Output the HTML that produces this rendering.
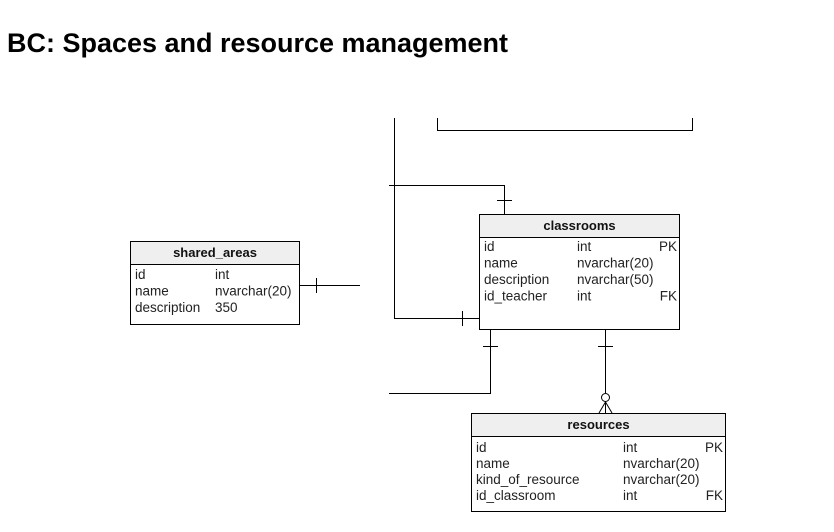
<!DOCTYPE html>
<html><head><style>
html,body{margin:0;padding:0;background:#fff;}
svg{display:block;}
text{font-family:"Liberation Sans",Arial,sans-serif;}
.t{font-size:13.5px;fill:#222;}
.h{font-size:13px;font-weight:bold;fill:#111;}
</style></head><body>
<svg width="834" height="532" viewBox="0 0 834 532" xmlns="http://www.w3.org/2000/svg">
<text x="7" y="52" font-size="27" font-weight="bold" fill="#000" textLength="501" lengthAdjust="spacingAndGlyphs">BC: Spaces and resource management</text>
<g stroke="#000" stroke-width="1" fill="none">
<path d="M437.5 118V130.5H692.5V118"/>
<path d="M394.5 118V318.5H479"/>
<path d="M462.5 311V326"/>
<path d="M389 185.5H504.5V214"/>
<path d="M497 200.5H512"/>
<path d="M299 285.5H360"/>
<path d="M316.5 278V293"/>
<path d="M490.5 329V393.5H389"/>
<path d="M483 346.5H498"/>
<path d="M605.5 329V393"/>
<path d="M598 346.5H613"/>
<circle cx="605.5" cy="397.5" r="4"/>
<path d="M605.5 402L599 413M605.5 402V413M605.5 402L612 413"/>
</g>
<rect x="479.5" y="214.5" width="200" height="115" fill="#fff" stroke="#000"/>
<rect x="479.5" y="214.5" width="200" height="23" fill="#efefef" stroke="#000"/>
<text class="h" x="579.5" y="230" text-anchor="middle">classrooms</text>
<text class="t" x="484" y="251">id</text><text class="t" x="577" y="251">int</text><text class="t" x="677" y="251" text-anchor="end">PK</text>
<text class="t" x="484" y="267.5">name</text><text class="t" x="577" y="267.5">nvarchar(20)</text>
<text class="t" x="484" y="284">description</text><text class="t" x="577" y="284">nvarchar(50)</text>
<text class="t" x="484" y="300.5">id_teacher</text><text class="t" x="577" y="300.5">int</text><text class="t" x="677" y="300.5" text-anchor="end">FK</text>
<rect x="130.5" y="241.5" width="169" height="83" fill="#fff" stroke="#000"/>
<rect x="130.5" y="241.5" width="169" height="23" fill="#efefef" stroke="#000"/>
<text class="h" x="215" y="257" text-anchor="middle">shared_areas</text>
<text class="t" x="135" y="279">id</text><text class="t" x="215" y="279">int</text>
<text class="t" x="135" y="295.5">name</text><text class="t" x="215" y="295.5">nvarchar(20)</text>
<text class="t" x="135" y="312">description</text><text class="t" x="215" y="312">350</text>
<rect x="471.5" y="413.5" width="254" height="98" fill="#fff" stroke="#000"/>
<rect x="471.5" y="413.5" width="254" height="23" fill="#efefef" stroke="#000"/>
<text class="h" x="598.5" y="429" text-anchor="middle">resources</text>
<text class="t" x="476" y="452">id</text><text class="t" x="623" y="452">int</text><text class="t" x="723" y="452" text-anchor="end">PK</text>
<text class="t" x="476" y="468">name</text><text class="t" x="623" y="468">nvarchar(20)</text>
<text class="t" x="476" y="484">kind_of_resource</text><text class="t" x="623" y="484">nvarchar(20)</text>
<text class="t" x="476" y="500">id_classroom</text><text class="t" x="623" y="500">int</text><text class="t" x="723" y="500" text-anchor="end">FK</text>
</svg>
</body></html>
